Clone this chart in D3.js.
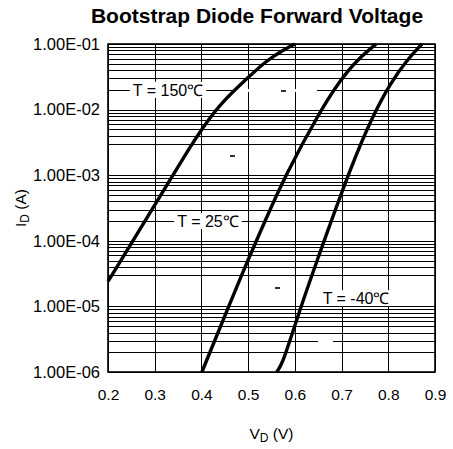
<!DOCTYPE html>
<html>
<head>
<meta charset="utf-8">
<script src="https://cdn.jsdelivr.net/npm/d3@7"></script>
<style>
body{margin:0;background:#fff;}
#canvas{width:453px;height:449px;}
text{font-family:"Liberation Sans",Arial,sans-serif;fill:#000;}
</style>
</head>
<body>
<div id="canvas"></div>
<script>
// forward curves
var vd_150 = [0.200, 0.286, 0.371, 0.408, 0.444, 0.500, 0.541, 0.575, 0.600];
var id_150 = [2.4e-5, 2.4e-4, 2.4e-3, 6.0e-3, 1.3e-2, 3.1e-2, 5.7e-2, 8.1e-2, 1.0e-1];
var vd_25 = [0.401, 0.490, 0.540, 0.579, 0.654, 0.697, 0.733, 0.774];
var id_25 = [1.0e-6, 3.6e-5, 2.3e-4, 9.7e-4, 9.5e-3, 2.8e-2, 5.7e-2, 1.0e-1];
var vd_m40 = [0.561, 0.573, 0.600, 0.640, 0.725, 0.768, 0.804, 0.840, 0.872];
var id_m40 = [1.0e-6, 1.3e-6, 5.2e-6, 3.6e-5, 1.7e-3, 8.3e-3, 2.5e-2, 5.7e-2, 1.0e-1];

var x_ticks = [0.2, 0.3, 0.4, 0.5, 0.6, 0.7, 0.8, 0.9];
var x_labels = ["0.2", "0.3", "0.4", "0.5", "0.6", "0.7", "0.8", "0.9"];
var y_ticks = [1e-6, 1e-5, 1e-4, 1e-3, 1e-2, 1e-1];
var y_labels = ["1.00E-06", "1.00E-05", "1.00E-04", "1.00E-03", "1.00E-02", "1.00E-01"];

// curve labels (text, V, I)
var label_text = ["T = 150\u2103", "T = 25\u2103", "T = -40\u2103"];
var label_vd = [0.3285, 0.414, 0.731];
var label_id = [2e-2, 2e-4, 1.34e-5];

// odd bits of the original grid
var hidden_minor = [2e-3, 2e-5];
var gap_id = [2e-2, 3e-6];
var gap_from = [0.472, 0.650];
var gap_to = [0.647, 0.681];
var dash_id = [2e-2, 2e-3, 2e-5];
var dash_vd = [0.575, 0.466, 0.562];

var width = 453;
var height = 449;
var p_left = 108, p_right = 435, p_top = 44, p_bottom = 372;

var init = function(){
	var svg = d3.select("#canvas").append("svg");
	svg.attr("width", width).attr("height", height);

	var x = d3.scaleLinear().domain([0.2, 0.9]).range([p_left, p_right]);
	var y = d3.scaleLog().domain([1e-6, 1e-1]).range([p_bottom, p_top]);

	// grid
	var grid = svg.append("g").attr("shape-rendering", "crispEdges");
	var minor = [];
	for(var e = -6; e < -1; e++){
		for(var k = 2; k <= 9; k++){
			var v = k * Math.pow(10, e);
			if(hidden_minor.some(function(h){ return Math.abs(h - v) / h < 1e-6; })) continue;
			minor.push(v);
		}
	}
	grid.selectAll(".hgrid").data(minor.concat(y_ticks)).enter().append("line")
		.attr("x1", p_left).attr("x2", p_right)
		.attr("y1", function(d){ return Math.round(y(d)) + 0.5; })
		.attr("y2", function(d){ return Math.round(y(d)) + 0.5; })
		.attr("stroke", "#000").attr("stroke-width", 1);
	grid.selectAll(".vgrid").data(x_ticks).enter().append("line")
		.attr("y1", p_top).attr("y2", p_bottom)
		.attr("x1", function(d){ return Math.round(x(d)) + 0.5; })
		.attr("x2", function(d){ return Math.round(x(d)) + 0.5; })
		.attr("stroke", "#000").attr("stroke-width", 1);

	// white gaps in some grid lines
	grid.selectAll(".gap").data(gap_id).enter().append("rect")
		.attr("x", function(d, i){ return x(gap_from[i]); })
		.attr("width", function(d, i){ return x(gap_to[i]) - x(gap_from[i]); })
		.attr("y", function(d){ return Math.round(y(d)) - 1; })
		.attr("height", 3)
		.attr("fill", "#fff");
	grid.selectAll(".dash").data(dash_id).enter().append("rect")
		.attr("x", function(d, i){ return x(dash_vd[i]) - 2.5; })
		.attr("y", function(d){ return Math.round(y(d)); })
		.attr("width", 5).attr("height", 1.5)
		.attr("fill", "#333");

	// frame
	svg.append("rect")
		.attr("x", p_left).attr("y", p_top)
		.attr("width", p_right - p_left).attr("height", p_bottom - p_top)
		.attr("fill", "none").attr("stroke", "#000").attr("stroke-width", 1.6);

	// curves
	var line = d3.line()
		.x(function(d){ return x(d[0]); })
		.y(function(d){ return y(d[1]); })
		.curve(d3.curveBasis);
	var series = [d3.zip(vd_150, id_150), d3.zip(vd_25, id_25), d3.zip(vd_m40, id_m40)];
	svg.selectAll(".curve").data(series).enter().append("path")
		.attr("d", line)
		.attr("fill", "none")
		.attr("stroke", "#000")
		.attr("stroke-width", 3.4)
		.attr("stroke-linecap", "butt");

	// curve labels with white boxes
	label_text.forEach(function(t, i){
		var g = svg.append("g").attr("transform", "translate(" + x(label_vd[i]) + "," + y(label_id[i]) + ")");
		var box = g.append("rect").attr("fill", "#fff");
		var txt = g.append("text")
			.text(t)
			.attr("text-anchor", "middle")
			.attr("dy", "0.36em")
			.style("font-size", "16px");
		var bb = txt.node().getBBox();
		box.attr("x", bb.x - 3).attr("width", bb.width + 6)
			.attr("y", -8).attr("height", 16);
	});

	// axes
	var xAxis = d3.axisBottom(x).tickValues(x_ticks)
		.tickFormat(function(d, i){ return x_labels[i]; })
		.tickSize(0).tickPadding(17);
	var gx = svg.append("g").attr("transform", "translate(0," + p_bottom + ")").call(xAxis);
	gx.select(".domain").remove();
	gx.attr("font-family", null).attr("font-size", null);
	gx.selectAll("text").style("font-size", "15.5px");

	var yAxis = d3.axisLeft(y).tickValues(y_ticks)
		.tickFormat(function(d, i){ return y_labels[i]; })
		.tickSize(0).tickPadding(8);
	var gy = svg.append("g").attr("transform", "translate(" + p_left + ",0)").call(yAxis);
	gy.select(".domain").remove();
	gy.attr("font-family", null).attr("font-size", null);
	gy.selectAll("text").style("font-size", "16.5px");

	// title
	svg.append("text")
		.attr("x", 257).attr("y", 23)
		.attr("text-anchor", "middle")
		.style("font-size", "21px")
		.style("font-weight", "bold")
		.text("Bootstrap Diode Forward Voltage");

	// axis titles
	var xt = svg.append("text")
		.attr("x", (p_left + p_right) / 2).attr("y", 439)
		.attr("text-anchor", "middle")
		.style("font-size", "15.5px");
	xt.append("tspan").text("V");
	xt.append("tspan").attr("dy", 3).style("font-size", "12px").text("D");
	xt.append("tspan").attr("dy", -3).text(" (V)");

	var yt = svg.append("text")
		.attr("transform", "translate(26," + (p_top + p_bottom) / 2 + ") rotate(-90)")
		.attr("text-anchor", "middle")
		.style("font-size", "15.5px");
	yt.append("tspan").text("I");
	yt.append("tspan").attr("dy", 3).style("font-size", "12px").text("D");
	yt.append("tspan").attr("dy", -3).text(" (A)");
}

init();
</script>
</body>
</html>
